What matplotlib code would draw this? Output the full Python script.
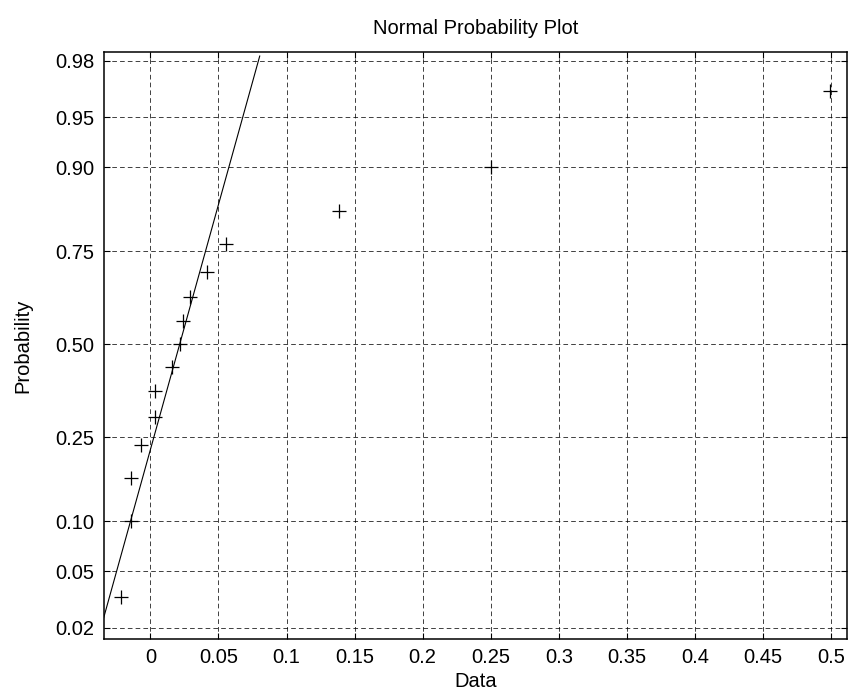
import math
import numpy as np
import matplotlib
matplotlib.use("Agg")
import matplotlib.pyplot as plt

plt.rcParams['font.family'] = ['Liberation Sans', 'DejaVu Sans']

# sorted sample data
data_x = [-0.0218, -0.0145, -0.0140, -0.0066, 0.0035, 0.0036, 0.0162, 0.0215,
          0.0240, 0.0289, 0.0416, 0.0553, 0.1386, 0.2501, 0.4993]
# plotting positions of each sample
data_p = [0.0333, 0.1000, 0.1667, 0.2333, 0.3000, 0.3667, 0.4333, 0.5000,
          0.5667, 0.6333, 0.7000, 0.7667, 0.8333, 0.9000, 0.9667]

# reference line (normal fit)
fit_mu = 0.0215
fit_sigma = 0.02816
fit_p_range = [0.0160, 0.9816]

tick_p = [0.02, 0.05, 0.10, 0.25, 0.50, 0.75, 0.90, 0.95, 0.98]
tick_p_labels = ['0.02', '0.05', '0.10', '0.25', '0.50', '0.75', '0.90', '0.95', '0.98']
tick_x = [0, 0.05, 0.1, 0.15, 0.2, 0.25, 0.3, 0.35, 0.4, 0.45, 0.5]
tick_x_labels = ['0', '0.05', '0.1', '0.15', '0.2', '0.25', '0.3', '0.35', '0.4', '0.45', '0.5']


def norm_ppf(p):
    # inverse normal cdf by bisection on erf
    lo, hi = -10.0, 10.0
    for _ in range(80):
        mid = 0.5 * (lo + hi)
        if 0.5 * (1 + math.erf(mid / math.sqrt(2))) < p:
            lo = mid
        else:
            hi = mid
    return 0.5 * (lo + hi)


z_data = [norm_ppf(p) for p in data_p]
z_ticks = [norm_ppf(p) for p in tick_p]
z_line = np.array([norm_ppf(p) for p in fit_p_range])
x_line = fit_mu + fit_sigma * z_line

fig = plt.figure(figsize=(8.51, 6.93), dpi=100)
ax = fig.add_axes([0.1222, 0.0784, 0.8728, 0.8461])

ax.plot(x_line, z_line, color='black', linewidth=0.8)
ax.plot(data_x, z_data, linestyle='none', marker='+', markersize=10,
        markeredgewidth=0.9, color='black')

ax.set_xlim(-0.0341, 0.5115)
ax.set_ylim(-2.134, 2.115)
ax.set_xticks(tick_x)
ax.set_xticklabels(tick_x_labels)
ax.set_yticks(z_ticks)
ax.set_yticklabels(tick_p_labels)

ax.grid(True, color='black', linestyle=(0, (4.8, 3.2)), linewidth=0.7, alpha=0.75)
ax.tick_params(direction='in', length=4.5, width=0.8, top=True, right=True,
               labelsize=14.5, pad=7)
for s in ax.spines.values():
    s.set_linewidth(1.1)

ax.set_title('Normal Probability Plot', fontsize=14.5, pad=13)
ax.set_xlabel('Data', fontsize=14.5, labelpad=3)
ax.set_ylabel('Probability', fontsize=14.5, labelpad=16)

fig.savefig('out.png', dpi=100)
